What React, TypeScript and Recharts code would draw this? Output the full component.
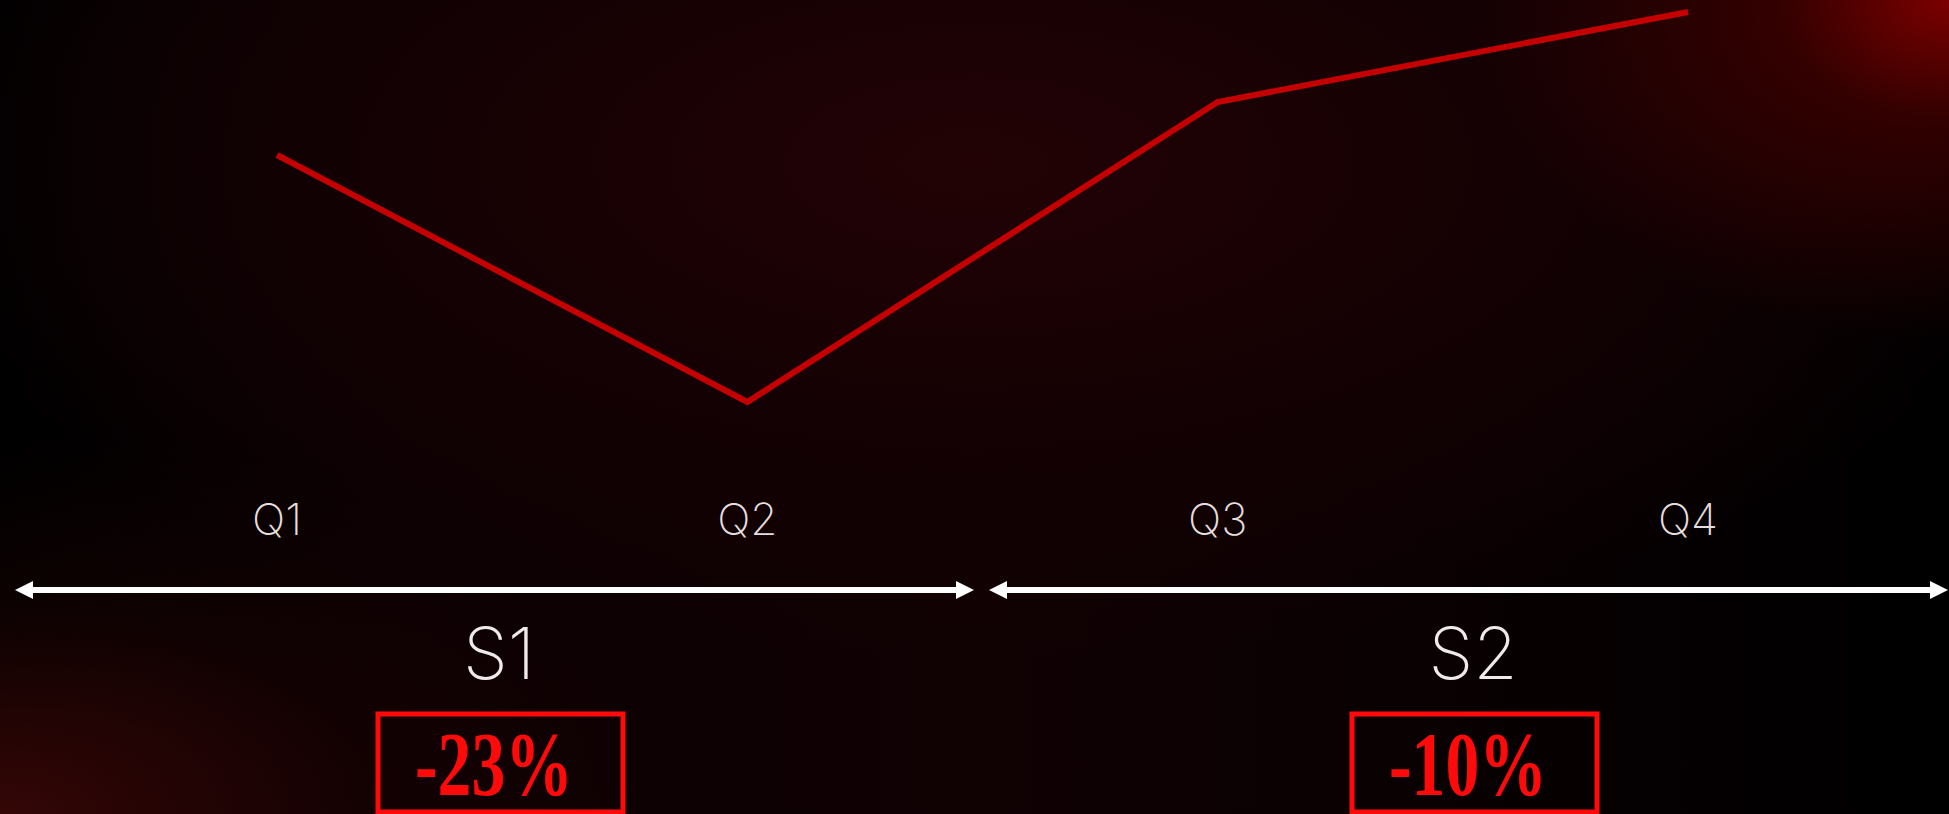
import React from 'react';
import { LineChart, Line, XAxis, YAxis } from 'recharts';

const quarters = ['Q1', 'Q2', 'Q3', 'Q4'];
const values = [69, 19.6, 79.6, 97.6];
const halfOfQuarter = ['S1', 'S1', 'S2', 'S2'];
const halfLabels = ['S1', 'S2'];
const halfChanges = ['-23%', '-10%'];

const data = quarters.map((q, i) => ({ quarter: q, value: values[i], half: halfOfQuarter[i] }));

const thinFont = 'Inter, Lato, "Noto Sans", sans-serif';

function QuarterTick(props: any) {
  const { x, y, payload } = props;
  return (
    <text x={x} y={y + 19} textAnchor="middle" dominantBaseline="central" fill="#e6dede" fontFamily={thinFont} fontWeight={200} fontSize={44}>
      {payload.value}
    </text>
  );
}

function HalfTick(props: any) {
  const { x, y, payload } = props;
  const idx = halfLabels.indexOf(payload.value);
  const change = halfChanges[idx];
  const x1 = x - 472;
  const x2 = x + 487;
  const ay = y + 50;
  const cx = x + 12;
  return (
    <g>
      <line x1={x1 + 14} x2={x2 - 14} y1={ay} y2={ay} stroke="#ffffff" strokeWidth={6} />
      <polygon points={`${x1},${ay} ${x1 + 18},${ay - 9} ${x1 + 18},${ay + 9}`} fill="#ffffff" />
      <polygon points={`${x2},${ay} ${x2 - 18},${ay - 9} ${x2 - 18},${ay + 9}`} fill="#ffffff" />
      <text x={cx} y={ay + 89} textAnchor="middle" fill="#f0eaea" fontFamily={thinFont} fontWeight={200} fontSize={72}>
        {payload.value}
      </text>
      <rect x={cx - 121} y={ay + 124} width={245} height={98} fill="none" stroke="#ff0a0a" strokeWidth={5} />
      <text x={cx - 5} y={ay + 205} textAnchor="middle" fill="#ff0a0a" fontFamily='"Liberation Serif", "DejaVu Serif", serif' fontWeight={700} fontSize={90} textLength={158} lengthAdjust="spacingAndGlyphs">
        {change}
      </text>
    </g>
  );
}

export default function App() {
  return (
    <div
      style={{
        position: 'fixed',
        top: 0,
        left: 0,
        width: 1949,
        height: 814,
        overflow: 'hidden',
        background:
          'radial-gradient(ellipse 480px 340px at 100% 0%, rgba(130,0,0,0.95) 0%, rgba(80,0,0,0.6) 35%, rgba(40,0,0,0) 100%),' +
          'radial-gradient(ellipse 700px 380px at 0% 100%, rgba(70,8,8,0.75) 0%, rgba(40,4,4,0.3) 55%, rgba(0,0,0,0) 100%),' +
          'radial-gradient(ellipse 1100px 500px at 50% 20%, #220205 0%, #130103 55%, rgba(0,0,0,0) 100%),' +
          'linear-gradient(90deg, #000000 0%, #0a0002 20%, #100103 50%, #050001 85%, #000000 100%)',
      }}
    >
      <LineChart width={1949} height={814} data={data} margin={{ top: 0, right: 0, bottom: 0, left: 0 }}>
        <YAxis hide domain={[0, 100]} />
        <XAxis
          xAxisId="q"
          dataKey="quarter"
          axisLine={false}
          tickLine={false}
          tickSize={0}
          tickMargin={0}
          height={40}
          interval={0}
          padding={{ left: 277, right: 261 }}
          tick={<QuarterTick />}
        />
        <XAxis
          xAxisId="s"
          dataKey="half"
          allowDuplicatedCategory={false}
          axisLine={false}
          tickLine={false}
          tickSize={0}
          tickMargin={0}
          height={274}
          interval={0}
          padding={{ left: 487, right: 488 }}
          tick={<HalfTick />}
        />
        <Line
          xAxisId="q"
          type="linear"
          dataKey="value"
          stroke="#c40000"
          strokeWidth={6}
          dot={false}
          activeDot={false}
          isAnimationActive={false}
        />
      </LineChart>
    </div>
  );
}
